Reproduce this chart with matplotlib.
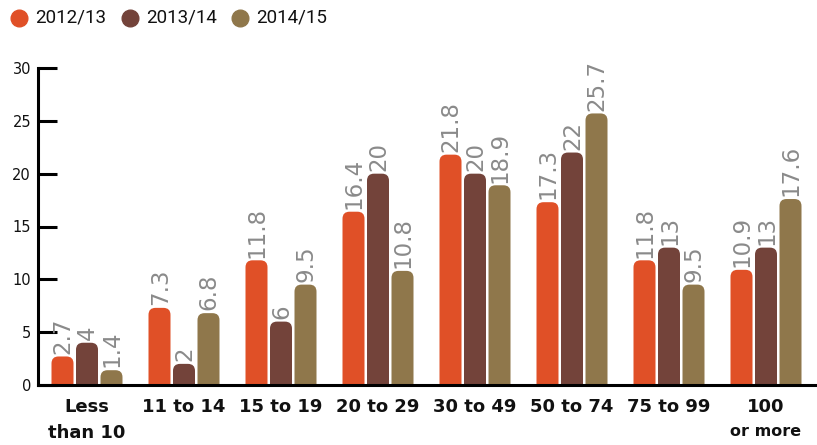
import numpy as np
import matplotlib.pyplot as plt
from matplotlib.patches import FancyBboxPatch
from matplotlib.lines import Line2D

# datos por tamaño de grupo
categorias = ['Less', '11 to 14', '15 to 19', '20 to 29', '30 to 49', '50 to 74', '75 to 99', '100']
segunda_linea = ['than 10', '', '', '', '', '', '', 'or more']
periodos = ['2012/13', '2013/14', '2014/15']
valores_1213 = [2.7, 7.3, 11.8, 16.4, 21.8, 17.3, 11.8, 10.9]
valores_1314 = [4, 2, 6, 20, 20, 22, 13, 13]
valores_1415 = [1.4, 6.8, 9.5, 10.8, 18.9, 25.7, 9.5, 17.6]
colores = ['#E05027', '#73433A', '#8F774B']

W, H = 817, 445
fig = plt.figure(figsize=(W / 100, H / 100), dpi=100)
ax = fig.add_axes([38 / W, 1 - 385 / H, 1 - 38 / W, (385 - 68) / H])

xmin = -(87 - 38) / 97
xmax = xmin + (W - 38) / 97
ax.set_xlim(xmin, xmax)
ax.set_ylim(0, 30)

# escala para redondear solo la parte de arriba
px_x = (xmax - xmin) / (W - 38)
px_y = 30 / (385 - 68)
aspecto = px_y / px_x
radio = 7 * px_x

ancho = 22 / 97
desplaz = 24.5 / 97
series = [valores_1213, valores_1314, valores_1415]
x = np.arange(len(categorias))

for k, (serie, color) in enumerate(zip(series, colores)):
    for i, v in enumerate(serie):
        xc = x[i] + (k - 1) * desplaz
        caja = FancyBboxPatch((xc - ancho / 2, -2), ancho, v + 2,
                              boxstyle=f'round,pad=0,rounding_size={radio}',
                              mutation_aspect=aspecto,
                              facecolor=color, edgecolor='none', clip_on=True)
        ax.add_patch(caja)
        etiqueta = f'{v:g}'
        ax.annotate(etiqueta, (xc, v), xytext=(0.5, 2), textcoords='offset points',
                    rotation=90, ha='center', va='bottom', fontsize=16.5,
                    color='#8A8A8A', annotation_clip=False)

# ejes
for lado in ['top', 'right']:
    ax.spines[lado].set_visible(False)
ax.spines['left'].set_linewidth(2.2)
ax.spines['bottom'].set_linewidth(2.2)
ax.spines['left'].set_zorder(5)
ax.spines['bottom'].set_zorder(5)
ax.set_yticks([0, 5, 10, 15, 20, 25, 30])
ax.tick_params(axis='y', direction='in', length=14, width=2.2, pad=5,
               labelsize=10.5, labelcolor='#111111')
ax.set_xticks([])

for i in range(len(categorias)):
    ax.annotate(categorias[i], (x[i], 0), xycoords=('data', 'axes fraction'),
                xytext=(0, -9), textcoords='offset points', ha='center', va='top',
                fontsize=13, fontweight='bold', color='#111111')
    if segunda_linea[i]:
        tam = 13 if i == 0 else 11.5
        ax.annotate(segunda_linea[i], (x[i], 0), xycoords=('data', 'axes fraction'),
                    xytext=(0, -28), textcoords='offset points', ha='center', va='top',
                    fontsize=tam, fontweight='bold', color='#111111')

# leyenda
leyenda_x = [19, 130, 240]
for px, nombre, color in zip(leyenda_x, periodos, colores):
    fig.add_artist(Line2D([px / W], [1 - 18 / H], marker='o', markersize=12,
                          color=color, linestyle='none', transform=fig.transFigure))
    fig.text((px + 16) / W, 1 - 18 / H, nombre, ha='left', va='center',
             fontsize=13.5, family=['Roboto', 'DejaVu Sans'], color='#111111')

fig.savefig('out.png', dpi=100)
